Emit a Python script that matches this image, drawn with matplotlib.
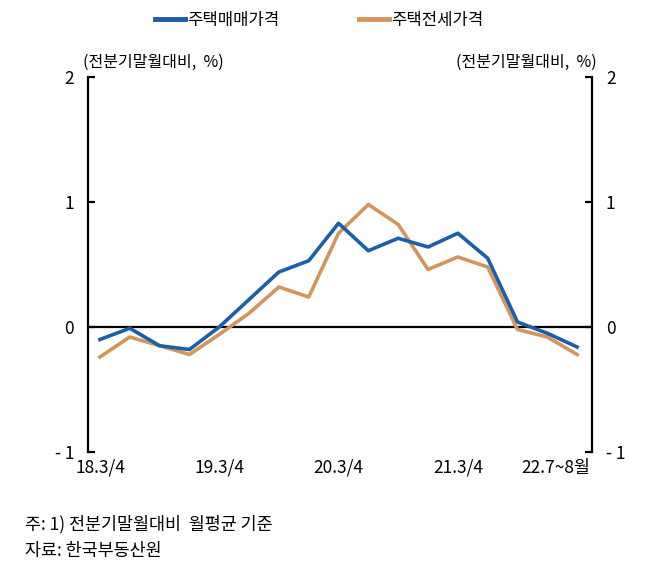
import matplotlib
matplotlib.use("Agg")
import matplotlib.pyplot as plt
from matplotlib.lines import Line2D

plt.rcParams["font.family"] = ["Noto Sans CJK KR", "DejaVu Sans"]

# quarterly, 18.3Q .. 22.2Q, then 22.7~8월
periods = list(range(17))
sale_price = [-0.10, -0.01, -0.15, -0.18, 0.00, 0.22, 0.44, 0.53, 0.83,
              0.61, 0.71, 0.64, 0.75, 0.55, 0.04, -0.05, -0.16]
jeonse_price = [-0.24, -0.08, -0.15, -0.22, -0.06, 0.11, 0.32, 0.24, 0.75,
                0.98, 0.82, 0.46, 0.56, 0.48, -0.02, -0.08, -0.22]
x_ticks = [0, 4, 8, 12, 15.3]
x_labels = ["18.3/4", "19.3/4", "20.3/4", "21.3/4", "22.7~8월"]
y_ticks = [-1, 0, 1, 2]
y_labels = ["- 1", "0", "1", "2"]
series_names = ["주택매매가격", "주택전세가격"]

BLUE = "#1b5eaa"
ORANGE = "#d3955c"

fig = plt.figure(figsize=(6.72, 5.72), dpi=100)
ax = fig.add_axes([0.131, 0.2098, 0.75, 0.6556])

ax.axhline(0, color="black", linewidth=1.6, zorder=1)
ax.plot(periods, sale_price, color=BLUE, linewidth=2.6, zorder=3)
ax.plot(periods, jeonse_price, color=ORANGE, linewidth=2.6, zorder=2)

ax.set_xlim(-0.4, 16.5)
ax.set_ylim(-1, 2)
ax.set_yticks(y_ticks)
ax.set_yticklabels(y_labels)
ax.set_xticks(x_ticks)
ax.set_xticklabels(x_labels)

for side in ("top", "bottom"):
    ax.spines[side].set_visible(False)
for side in ("left", "right"):
    ax.spines[side].set_linewidth(1.6)

ax.tick_params(axis="y", direction="in", length=5, width=1.6,
               left=True, right=True, labelleft=True, labelright=True,
               labelsize=12.5, pad=10)
ax.tick_params(axis="x", length=0, labelsize=12.5, pad=5)

ax.text(-0.01, 1.04, "(전분기말월대비,  %)", transform=ax.transAxes,
        ha="left", va="center", fontsize=11.5)
ax.text(1.01, 1.04, "(전분기말월대비,  %)", transform=ax.transAxes,
        ha="right", va="center", fontsize=11.5)

handles = [Line2D([], [], color=BLUE, linewidth=3.5),
           Line2D([], [], color=ORANGE, linewidth=3.5)]
fig.legend(handles, series_names, loc="center", bbox_to_anchor=(0.475, 0.965),
           ncol=2, frameon=False, fontsize=12, handlelength=1.8,
           handletextpad=0.1, columnspacing=4.8)

fig.text(0.037, 0.083, "주: 1) 전분기말월대비  월평균 기준", fontsize=12.5,
         ha="left", va="center")
fig.text(0.037, 0.037, "자료: 한국부동산원", fontsize=12.5,
         ha="left", va="center")

fig.savefig("out.png", dpi=100)
